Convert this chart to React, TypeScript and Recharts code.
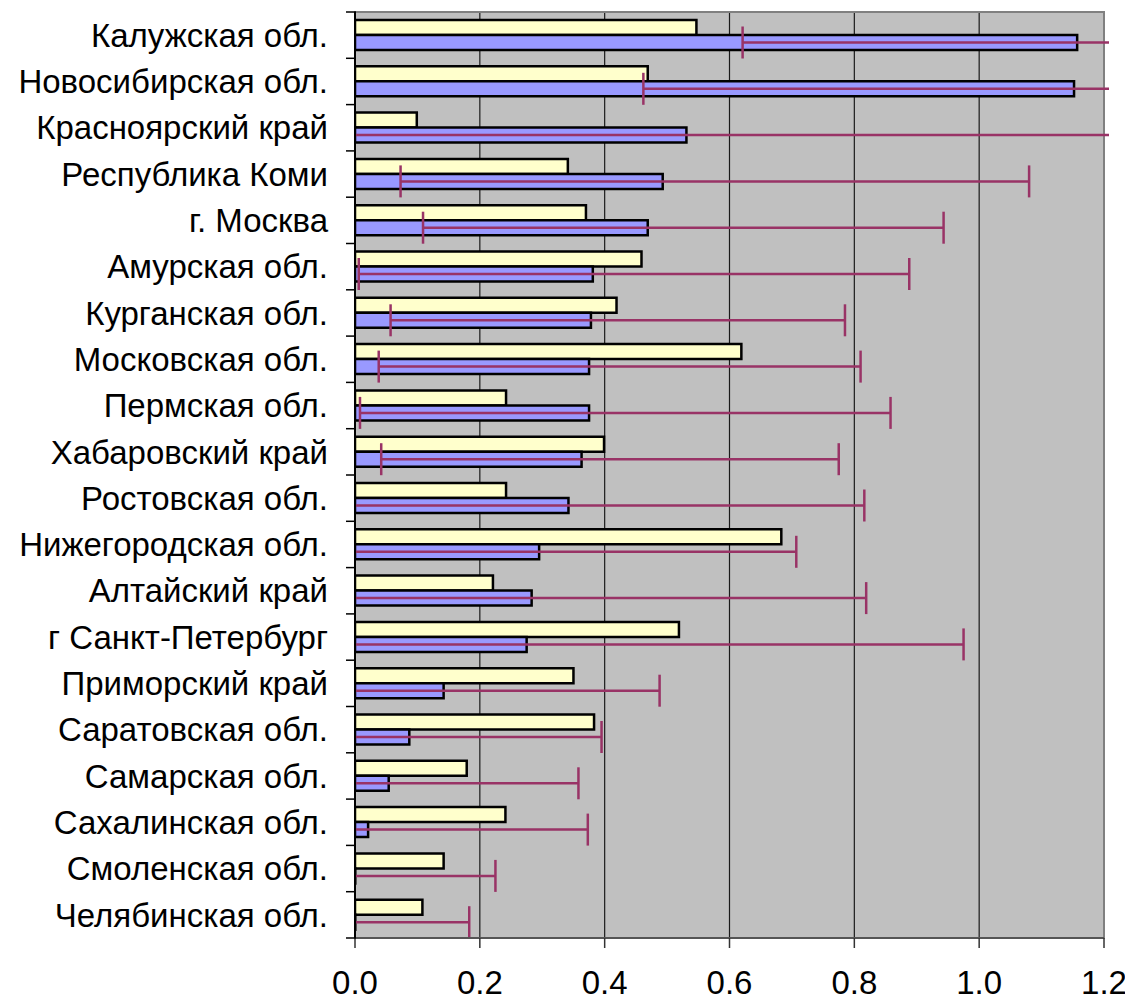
import React from 'react';
import { BarChart, Bar, XAxis, YAxis, CartesianGrid, ErrorBar, ReferenceArea } from 'recharts';

const regions = [
  'Калужская обл.',
  'Новосибирская обл.',
  'Красноярский край',
  'Республика Коми',
  'г. Москва',
  'Амурская обл.',
  'Курганская обл.',
  'Московская обл.',
  'Пермская обл.',
  'Хабаровский край',
  'Ростовская обл.',
  'Нижегородская обл.',
  'Алтайский край',
  'г Санкт-Петербург',
  'Приморский край',
  'Саратовская обл.',
  'Самарская обл.',
  'Сахалинская обл.',
  'Смоленская обл.',
  'Челябинская обл.',
];

const yellowValues = [0.547, 0.469, 0.099, 0.341, 0.37, 0.459, 0.419, 0.619, 0.242, 0.399, 0.242, 0.683, 0.221, 0.519, 0.35, 0.383, 0.179, 0.241, 0.142, 0.108];
const blueValues = [1.157, 1.152, 0.531, 0.493, 0.469, 0.381, 0.378, 0.375, 0.375, 0.363, 0.342, 0.295, 0.283, 0.275, 0.142, 0.087, 0.054, 0.021, 0.0005, 0.0005];
const errLow = [0.621, 0.462, -0.2, 0.073, 0.109, 0.006, 0.057, 0.038, 0.008, 0.042, -0.13, -0.12, -0.25, -0.43, -0.2, -0.22, -0.25, -0.33, -0.22, -0.18];
const errHigh = [1.75, 2.0, 1.45, 1.08, 0.943, 0.888, 0.785, 0.81, 0.858, 0.775, 0.816, 0.707, 0.819, 0.975, 0.488, 0.395, 0.358, 0.373, 0.225, 0.183];
const xTicks = [0, 0.2, 0.4, 0.6, 0.8, 1.0, 1.2];

const data = regions.map((name, i) => ({
  name,
  yellow: yellowValues[i],
  blue: blueValues[i],
  err: [blueValues[i] - errLow[i], errHigh[i] - blueValues[i]],
}));

const CHART_W = 1125;
const CHART_H = 994;
const MARGIN = { top: 4, right: 29, left: 0, bottom: 0 };
const X_AXIS_H = 64;
const PLOT_H = CHART_H - MARGIN.top - MARGIN.bottom - X_AXIS_H;
const BAND = PLOT_H / regions.length;
const FONT = "'Liberation Sans', Arial, sans-serif";

const CategoryTick = (props: any) => {
  const { x, y, payload, index } = props;
  const axisX = x + 3;
  const last = index === regions.length - 1;
  return (
    <g>
      <line x1={axisX - 10} x2={axisX} y1={y - BAND / 2} y2={y - BAND / 2} stroke="#000" strokeWidth={1.5} />
      {last && (
        <line x1={axisX - 10} x2={axisX} y1={y + BAND / 2} y2={y + BAND / 2} stroke="#000" strokeWidth={1.5} />
      )}
      <text x={x - 25} y={y} dy="0.355em" textAnchor="end" fill="#000" fontSize={33} fontFamily={FONT}>
        {payload.value}
      </text>
    </g>
  );
};

const PlotFrame = (props: any) => {
  const { x, y, width, height } = props;
  return (
    <g>
      <defs>
        <clipPath id="plotClipErr">
          <rect x={x} y={y} width={width + 5} height={height} />
        </clipPath>
      </defs>
      <rect x={x} y={y} width={width} height={height} fill="none" stroke="#808080" strokeWidth={2} />
    </g>
  );
};

export default function App() {
  return (
    <BarChart
      width={CHART_W}
      height={CHART_H}
      data={data}
      layout="vertical"
      margin={MARGIN}
      barSize={15}
      barGap={0}
    >
      <CartesianGrid horizontal={false} vertical={true} stroke="#1a1a1a" strokeWidth={1.2} fill="#C0C0C0" fillOpacity={1} />
      <ReferenceArea x1={0} x2={1.2} ifOverflow="visible" shape={<PlotFrame />} />
      <XAxis
        type="number"
        domain={[0, 1.2]}
        ticks={xTicks}
        allowDataOverflow={true}
        tickFormatter={(v: number) => v.toFixed(1)}
        height={X_AXIS_H}
        tickSize={10}
        tickMargin={23}
        axisLine={{ stroke: '#555', strokeWidth: 2 }}
        tickLine={{ stroke: '#333', strokeWidth: 1.5 }}
        tick={{ fill: '#000', fontSize: 33, fontFamily: FONT }}
        interval={0}
      />
      <YAxis
        type="category"
        dataKey="name"
        width={347}
        tickLine={false}
        tickSize={0}
        axisLine={{ stroke: '#000', strokeWidth: 2 }}
        tick={<CategoryTick />}
        interval={0}
      />
      <Bar dataKey="yellow" fill="#FFFFCC" stroke="#000" strokeWidth={2.5} isAnimationActive={false} />
      <Bar dataKey="blue" fill="#9999FF" stroke="#000" strokeWidth={2.5} isAnimationActive={false}>
        <ErrorBar
          dataKey="err"
          direction="x"
          width={16}
          stroke="#993366"
          strokeWidth={2.5}
          clipPath="url(#plotClipErr)"
          isAnimationActive={false}
        />
      </Bar>
    </BarChart>
  );
}
